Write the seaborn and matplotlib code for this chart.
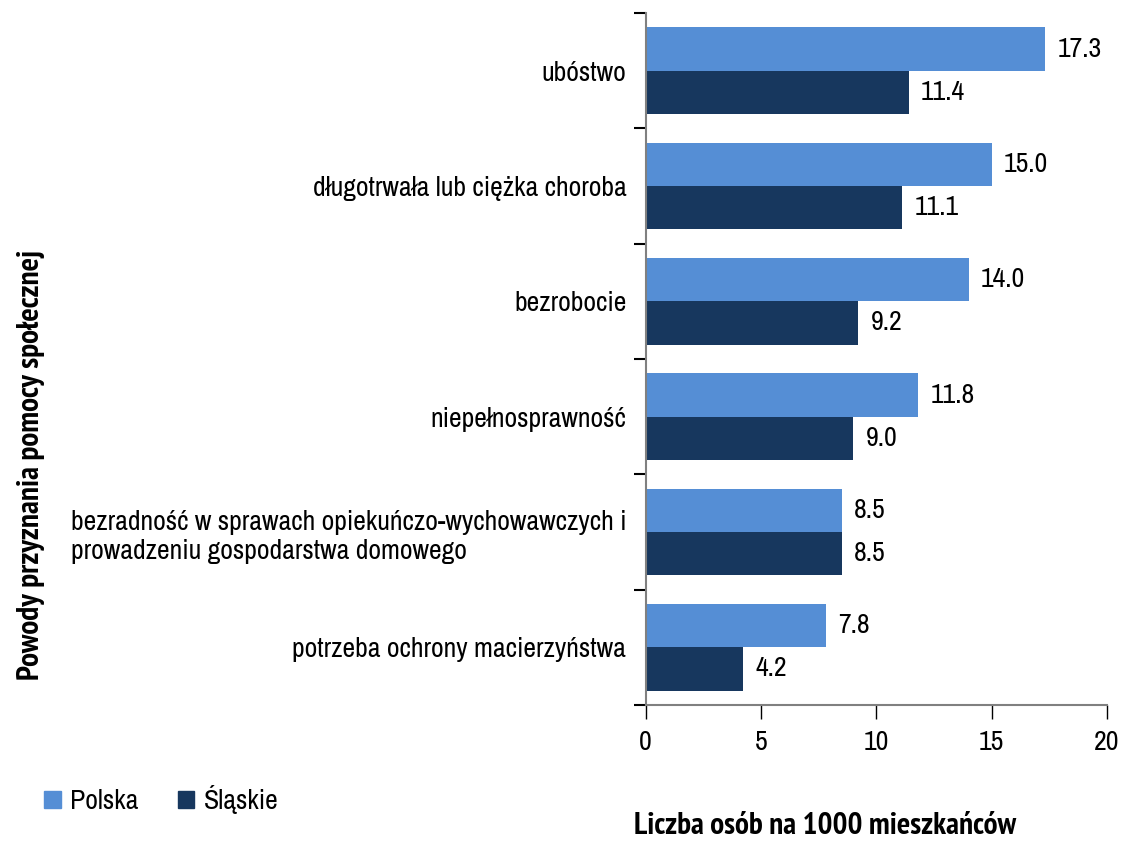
import numpy as np
import pandas as pd
import matplotlib.pyplot as plt
import seaborn as sns
from matplotlib import font_manager
from matplotlib.font_manager import FontProperties
from matplotlib.patches import Patch

# Dane
powody = ["ubóstwo",
          "długotrwała lub ciężka choroba",
          "bezrobocie",
          "niepełnosprawność",
          "bezradność w sprawach opiekuńczo-wychowawczych i\nprowadzeniu gospodarstwa domowego",
          "potrzeba ochrony macierzyństwa"]
polska = [17.3, 15.0, 14.0, 11.8, 8.5, 7.8]
slaskie = [11.4, 11.1, 9.2, 9.0, 8.5, 4.2]
serie = ["Polska", "Śląskie"]
kolory = ["#558ED5", "#17375E"]

df = pd.DataFrame({
    "powod": powody * 2,
    "wartosc": polska + slaskie,
    "region": [serie[0]] * len(powody) + [serie[1]] * len(powody),
})


def waga(f):
    w = f.weight
    return w if isinstance(w, int) else font_manager.weight_dict.get(w, 400)


# szukamy waskiego fontu (jak Arial Narrow w oryginale)
fonty = font_manager.fontManager.ttflist
waskie = [f for f in fonty if "Narrow" in f.name]
if not waskie:
    waskie = [f for f in fonty if "Condensed" in f.name or "condensed" in str(f.stretch)]
fs = 20
fs_bold = 22.5
if waskie:
    zwykle = [f for f in waskie if waga(f) == 400 and f.style == "normal"] or waskie
    grube = [f for f in waskie if waga(f) >= 600 and f.style == "normal"]
    rodzina = zwykle[0].name
    rozciag = zwykle[0].stretch
    if grube:
        grube.sort(key=lambda f: abs(waga(f) - 700))
        fp_bold = FontProperties(fname=grube[0].fname, size=fs_bold)
    else:
        fp_bold = FontProperties(family=rodzina, weight="bold", size=fs_bold)
else:
    rodzina = "Liberation Sans"
    rozciag = "normal"
    fs = 17
    fp_bold = FontProperties(family=rodzina, weight="bold", size=18)

sns.set_style("ticks")
plt.rcParams["font.family"] = [rodzina, "DejaVu Sans"]
plt.rcParams["font.stretch"] = rozciag
plt.rcParams["text.color"] = "black"
plt.rcParams["xtick.color"] = "black"
plt.rcParams["ytick.color"] = "black"

fig = plt.figure(figsize=(11.23, 8.41), dpi=100)
ax = fig.add_axes([0.575, 0.1617, 0.4107, 0.8228])

sns.barplot(data=df, y="powod", x="wartosc", hue="region", palette=kolory,
            orient="h", width=0.75, saturation=1, linewidth=0, legend=False, ax=ax)

for cont in ax.containers:
    ax.bar_label(cont, fmt="%.1f", padding=9, fontsize=fs)

ax.set_xlim(0, 20)
ax.set_ylim(len(powody) - 0.5, -0.5)
ax.set_xticks([0, 5, 10, 15, 20])
ax.set_xlabel("")
ax.set_ylabel("")
ax.tick_params(axis="x", which="major", bottom=True, labelsize=fs, length=10,
               width=1, direction="out", pad=8)
ax.tick_params(axis="y", which="major", left=True, length=0, labelsize=fs, pad=14)
ax.set_yticks(np.arange(-0.5, len(powody), 1), minor=True)
ax.tick_params(axis="y", which="minor", left=True, length=9, width=1.5)
for lab in ax.get_yticklabels():
    lab.set_multialignment("left")

for s in ["top", "right"]:
    ax.spines[s].set_visible(False)
for s in ["left", "bottom"]:
    ax.spines[s].set_color("#808080")
    ax.spines[s].set_linewidth(1.5)

fig.text(0.735, 0.018, "Liczba osób na 1000 mieszkańców", fontproperties=fp_bold,
         ha="center", va="center")
fig.text(0.028, 0.447, "Powody przyznania pomocy społecznej", fontproperties=fp_bold,
         rotation=90, ha="center", va="center")

uchwyty = [Patch(color=c, label=s) for c, s in zip(kolory, serie)]
fig.legend(handles=uchwyty, loc="center left", bbox_to_anchor=(0.017, 0.049),
           ncol=2, frameon=False, fontsize=fs, handlelength=0.6,
           handleheight=0.6, handletextpad=0.35, columnspacing=1.4)

fig.savefig("out.png", dpi=100)
